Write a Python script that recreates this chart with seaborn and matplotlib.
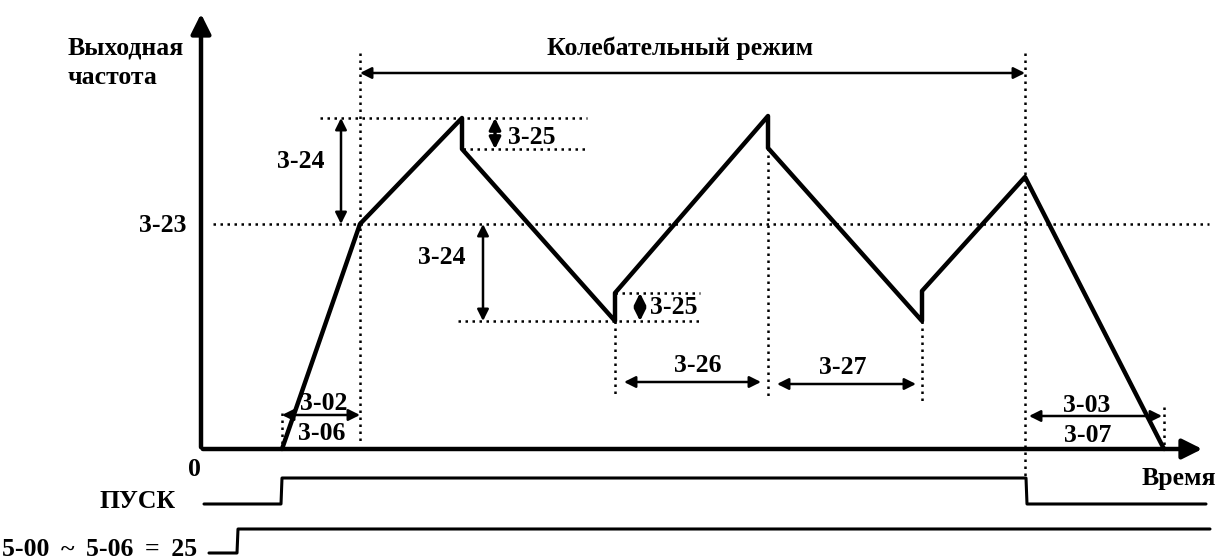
"""
Timing diagram: output frequency in oscillation (traverse) mode.
"""
import matplotlib
matplotlib.use("Agg")
import matplotlib.pyplot as plt
import pandas as pd
import seaborn as sns

# --- data (time / frequency in diagram units, origin at the axes corner) ---
wave_t = [81, 159, 261, 261, 414, 414, 567, 567, 721, 721, 824, 963]
wave_f = [0, 225, 331, 300, 128, 156, 333, 301, 128, 158, 272, 0]

run_t = [3, 80, 81, 825, 826, 1005]
run_f = [-55, -55, -29, -29, -55, -55]

mf_t = [8, 36, 37, 1009]
mf_f = [-104, -104, -80, -80]

center_f = 225          # 3-23
upper_f, upper_drop_f = 331, 300
lower_f, lower_jump_f = 128, 156
osc_start_t, osc_end_t = 159, 824
start_t, stop_t = 81, 963

FONT = "Liberation Serif"
FS = 18.5

sns.set_theme(style="white")
plt.rcParams["font.family"] = [FONT, "DejaVu Serif"]

fig = plt.figure(figsize=(12.29, 5.6), dpi=100)
ax = fig.add_axes([0, 0, 1, 1])
ax.set_xlim(-201, 1028)
ax.set_ylim(-111, 449)
ax.axis("off")

# main waveform and digital signals
df = pd.DataFrame({"t": wave_t, "f": wave_f})
sns.lineplot(data=df, x="t", y="f", sort=False, estimator=None, color="black",
             lw=3.2, ax=ax)
sns.lineplot(x=run_t, y=run_f, sort=False, estimator=None, color="black", lw=2.2, ax=ax)
sns.lineplot(x=mf_t, y=mf_f, sort=False, estimator=None, color="black", lw=2.2, ax=ax)

# axes arrows
ax.annotate("", xy=(0, 438), xytext=(0, -1),
            arrowprops=dict(arrowstyle="-|>", color="black", lw=3.2, mutation_scale=30))
ax.annotate("", xy=(1004, 0), xytext=(-1, 0),
            arrowprops=dict(arrowstyle="-|>", color="black", lw=3.2, mutation_scale=30))

# dotted guide lines
dot = dict(color="black", lw=1.8, linestyle=(0, (1, 1.8)))
ax.plot([12, 1008], [center_f, center_f], **dot)
ax.plot([119, 386], [upper_f, upper_f], **dot)
ax.plot([262, 386], [upper_drop_f, upper_drop_f], **dot)
ax.plot([257, 499], [lower_f, lower_f], **dot)
ax.plot([414, 499], [lower_jump_f, lower_jump_f], **dot)
ax.plot([osc_start_t, osc_start_t], [396, 6], **dot)
ax.plot([start_t, start_t], [36, 0], **dot)
ax.plot([414, 414], [lower_f, 54], **dot)
ax.plot([567, 567], [301, 53], **dot)
ax.plot([721, 721], [lower_f, 44], **dot)
ax.plot([osc_end_t, osc_end_t], [396, -29], **dot)
ax.plot([stop_t, stop_t], [42, 0], **dot)


def dim(p0, p1, lw=1.8, ms=17):
    ax.annotate("", xy=p1, xytext=p0,
                arrowprops=dict(arrowstyle="<|-|>", color="black", lw=lw,
                                mutation_scale=ms, shrinkA=0, shrinkB=0))


dim((osc_start_t, 376), (osc_end_t, 376))
dim((140, upper_f), (140, center_f))
dim((282, center_f), (282, lower_f))
dim((294, upper_f), (294, upper_drop_f), lw=2.4)
dim((439, lower_jump_f), (439, lower_f), lw=2.4)
dim((start_t, 34), (osc_start_t, 34))
dim((423, 67), (560, 67))
dim((576, 65), (715, 65))
dim((828, 33), (961, 33))

# labels
bold = dict(fontsize=FS, fontweight="bold", color="black")
ax.text(-133, 401, "Выходная", ha="left", va="center", **bold)
ax.text(-133, 371, "частота", ha="left", va="center", **bold)
ax.text(-15, 223, "3-23", ha="right", va="center", **bold)
ax.text(100, 288, "3-24", ha="center", va="center", **bold)
ax.text(241, 191, "3-24", ha="center", va="center", **bold)
ax.text(307, 312, "3-25", ha="left", va="center", **bold)
ax.text(449, 141, "3-25", ha="left", va="center", **bold)
ax.text(497, 84, "3-26", ha="center", va="center", **bold)
ax.text(642, 82, "3-27", ha="center", va="center", **bold)
ax.text(123, 46, "3-02", ha="center", va="center", **bold)
ax.text(121, 16, "3-06", ha="center", va="center", **bold)
ax.text(886, 44, "3-03", ha="center", va="center", **bold)
ax.text(887, 13, "3-07", ha="center", va="center", **bold)
ax.text(-7, -20, "0", ha="center", va="center", **bold)
ax.text(1015, -29, "Время", ha="right", va="center", **bold)
ax.text(-25, -52, "ПУСК", ha="right", va="center", **bold)
ax.text(-4, -100, "5-00\u2009 ~ \u20095-06\u2009 = \u200925", ha="right", va="center", **bold)
ax.text(479, 401, "Колебательный режим", ha="center", va="center", **bold)

fig.savefig("out.png", dpi=100)
